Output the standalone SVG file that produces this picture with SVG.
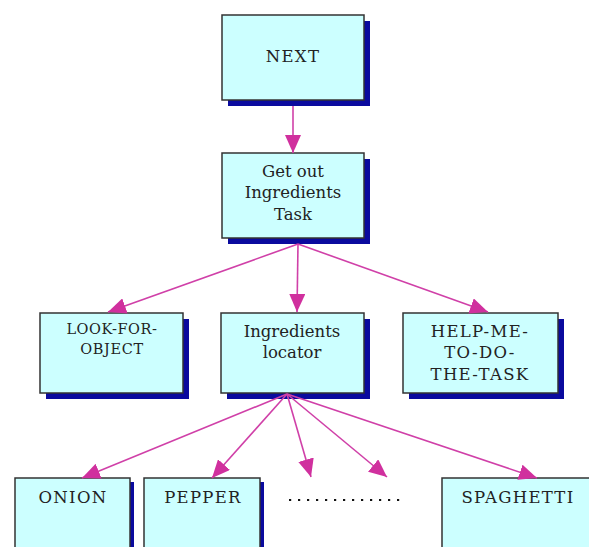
<svg xmlns="http://www.w3.org/2000/svg" width="589" height="547" viewBox="0 0 589 547">
<defs>
<style>
.sh{fill:#0a0a9e}
.bx{fill:#ccffff;stroke:#333;stroke-width:1.5}
.t{font-family:"DejaVu Serif","Liberation Serif",serif;font-size:16.5px;fill:#222;text-anchor:middle}
.u{letter-spacing:1.3px}
.ts{font-size:14.5px;letter-spacing:0.6px}
.c line{stroke:#d040a8;stroke-width:1.6}
</style>
<marker id="ah" viewBox="0 0 18 16" refX="18" refY="8" markerWidth="18" markerHeight="16" markerUnits="userSpaceOnUse" orient="auto">
<path d="M0,0 L18,8 L0,16 Z" fill="#d0309e"/>
</marker>
</defs>
<rect width="589" height="547" fill="#fff"/>
<g id="next">
<rect class="sh" x="228" y="21" width="142" height="85"/>
<rect class="bx" x="222" y="15" width="142" height="85"/>
<text class="t u" x="293" y="62">NEXT</text>
</g>
<g id="getout">
<rect class="sh" x="228" y="159" width="142" height="85"/>
<rect class="bx" x="222" y="153" width="142" height="85"/>
<text class="t" x="293" y="177">Get out</text>
<text class="t" x="293" y="198">Ingredients</text>
<text class="t" x="293" y="220">Task</text>
</g>
<g id="lookfor">
<rect class="sh" x="46" y="319" width="143" height="80"/>
<rect class="bx" x="40" y="313" width="143" height="80"/>
<text class="t ts" x="112" y="334">LOOK-FOR-</text>
<text class="t ts" x="112" y="354">OBJECT</text>
</g>
<g id="locator">
<rect class="sh" x="227" y="319" width="143" height="80"/>
<rect class="bx" x="221" y="313" width="143" height="80"/>
<text class="t" x="292" y="337">Ingredients</text>
<text class="t" x="292" y="358">locator</text>
</g>
<g id="help">
<rect class="sh" x="409" y="319" width="155" height="80"/>
<rect class="bx" x="403" y="313" width="155" height="80"/>
<text class="t u" x="480" y="337">HELP-ME-</text>
<text class="t u" x="480" y="358">TO-DO-</text>
<text class="t u" x="480" y="380">THE-TASK</text>
</g>
<g id="onion">
<rect class="sh" x="19" y="482" width="115" height="80"/>
<rect class="bx" x="15" y="478" width="115" height="80"/>
<text class="t u" x="73" y="503">ONION</text>
</g>
<g id="pepper">
<rect class="sh" x="148" y="482" width="116" height="80"/>
<rect class="bx" x="144" y="478" width="116" height="80"/>
<text class="t u" x="203" y="503">PEPPER</text>
</g>
<g id="dots">
<line x1="289" y1="500" x2="406" y2="500" stroke="#111" stroke-width="2.2" stroke-dasharray="2.2,6.8"/>
</g>
<g id="spaghetti">
<rect class="sh" x="446" y="482" width="150" height="80"/>
<rect class="bx" x="442" y="478" width="150" height="80"/>
<text class="t u" x="518" y="503">SPAGHETTI</text>
</g>
<g class="c" id="connectors">
<line x1="293" y1="106" x2="293" y2="153" marker-end="url(#ah)"/>
<line x1="298" y1="244" x2="108" y2="312" marker-end="url(#ah)"/>
<line x1="298" y1="244" x2="297" y2="312" marker-end="url(#ah)"/>
<line x1="298" y1="244" x2="488" y2="312" marker-end="url(#ah)"/>
<line x1="287" y1="394" x2="82" y2="478" marker-end="url(#ah)"/>
<line x1="287" y1="394" x2="212" y2="478" marker-end="url(#ah)"/>
<line x1="287" y1="394" x2="311" y2="477" marker-end="url(#ah)"/>
<line x1="287" y1="394" x2="387" y2="477" marker-end="url(#ah)"/>
<line x1="287" y1="394" x2="537" y2="478" marker-end="url(#ah)"/>
</g>
</svg>
